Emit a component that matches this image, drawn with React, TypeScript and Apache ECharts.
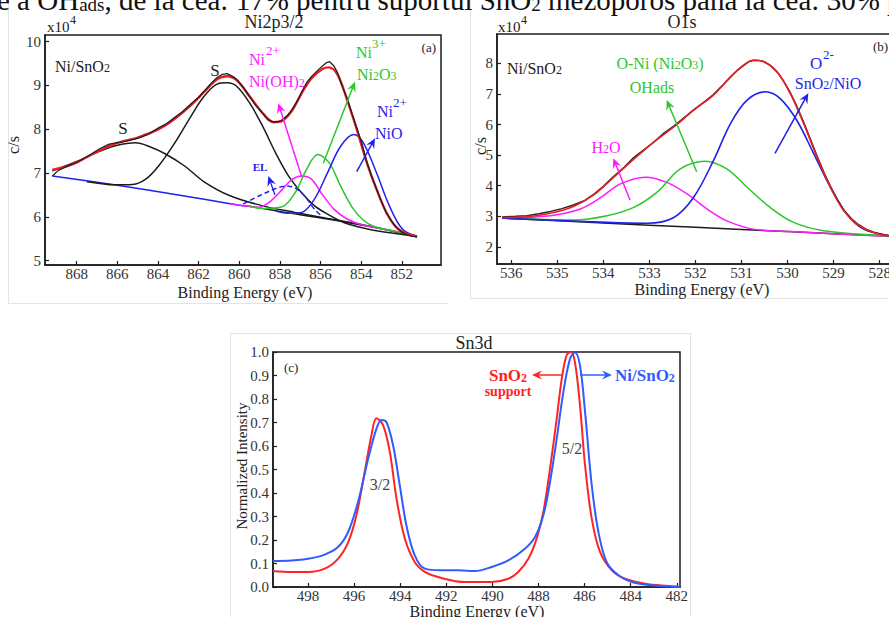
import React, { useEffect, useRef } from "react";
import * as echarts from "echarts";

const FONT = "'Liberation Serif','Times New Roman',serif";

// ---------- Panel (a) Ni2p3/2 ----------
const A_XTICKS = [868, 866, 864, 862, 860, 858, 856, 854, 852];
const A_YTICKS = [5, 6, 7, 8, 9, 10];
const A_RAW = [[869.2,6.93],[868.9,7.06],[868.4,7.17],[868.0,7.24],[867.5,7.37],[866.85,7.56],[866.4,7.66],[866.05,7.69],[865.6,7.72],[865.2,7.77],[864.93,7.8],[864.5,7.88],[863.97,8.03],[863.6,8.12],[863.17,8.27],[862.8,8.4],[862.37,8.58],[862.0,8.73],[861.73,8.86],[861.4,9.04],[861.09,9.18],[860.85,9.25],[860.6,9.27],[860.3,9.2],[860.13,9.14],[859.8,8.96],[859.49,8.74],[859.2,8.55],[858.85,8.36],[858.6,8.22],[858.37,8.17],[858.1,8.17],[857.89,8.21],[857.6,8.33],[857.41,8.44],[857.1,8.68],[856.93,8.85],[856.7,9.05],[856.45,9.2],[856.1,9.36],[855.89,9.45],[855.7,9.52],[855.55,9.54],[855.35,9.45],[855.17,9.3],[854.95,9.0],[854.69,8.7],[854.45,8.35],[854.21,8.02],[853.95,7.65],[853.73,7.27],[853.5,6.95],[853.25,6.64],[853.0,6.35],[852.77,6.1],[852.5,5.9],[852.29,5.77],[852.0,5.65],[851.81,5.6],[851.5,5.56],[851.25,5.54]];
const A_FIT = [[869.2,7.07],[868.4,7.17],[867.97,7.25],[866.85,7.52],[866.05,7.68],[864.93,7.82],[863.97,8.0],[863.17,8.24],[862.37,8.55],[861.73,8.85],[861.09,9.14],[860.6,9.21],[860.13,9.12],[859.49,8.75],[858.85,8.37],[858.3,8.16],[857.89,8.19],[857.41,8.42],[856.93,8.82],[856.45,9.16],[855.89,9.38],[855.6,9.41],[855.17,9.25],[854.69,8.67],[854.21,7.99],[853.73,7.25],[853.25,6.64],[852.77,6.11],[852.29,5.77],[851.81,5.62],[851.25,5.55]];
const A_SAT1 = [[869.2,7.05],[867.97,7.27],[866.85,7.5],[866.05,7.63],[865.1,7.69],[864.4,7.6],[863.65,7.44],[862.69,7.16],[861.73,6.8],[860.45,6.48],[858.85,6.25],[857.25,6.1],[855.65,5.96],[853.5,5.78],[851.25,5.55]];
const A_SAT2 = [[867.5,6.8],[866.85,6.76],[866.2,6.73],[865.25,6.74],[864.6,6.86],[863.97,7.16],[863.17,7.69],[862.37,8.3],[861.73,8.75],[861.09,9.03],[860.6,9.06],[860.13,8.98],[859.49,8.6],[858.85,8.07],[858.21,7.46],[857.57,6.93],[856.93,6.55],[856.29,6.25],[855.65,6.06],[854.85,5.87],[854.05,5.76],[853.25,5.68],[851.25,5.55]];
const A_BASE_BLUE = [[869.2,6.93],[866.0,6.72],[863.0,6.5],[860.45,6.3],[859.5,6.24]];
const A_BASE_BLACK = [[859.5,6.24],[858.0,6.12],[855.65,5.95],[853.5,5.77],[851.25,5.55]];
const A_NIOH2 = [[860.45,6.3],[859.6,6.24],[859.0,6.22],[858.53,6.33],[857.89,6.62],[857.41,6.85],[856.93,6.93],[856.45,6.86],[855.97,6.55],[855.33,6.17],[854.69,5.95],[854.05,5.83],[852.45,5.68],[851.25,5.56]];
const A_NI2O3 = [[859.5,6.24],[858.85,6.19],[857.89,6.23],[857.25,6.55],[856.69,7.08],[856.13,7.42],[855.57,7.23],[855.01,6.7],[854.37,6.17],[853.73,5.87],[852.93,5.72],[851.97,5.64],[851.25,5.56]];
const A_NIO = [[858.2,6.13],[857.57,6.08],[856.93,6.1],[856.29,6.41],[855.65,7.01],[855.01,7.61],[854.37,7.88],[853.89,7.69],[853.25,7.01],[852.61,6.25],[851.97,5.72],[851.25,5.55]];
const A_EL = [[859.81,6.29],[859.01,6.48],[858.05,6.67],[857.57,6.7],[856.93,6.55],[856.29,6.17],[855.89,6.0]];

// ---------- Panel (b) O1s ----------
const B_XTICKS = [536, 535, 534, 533, 532, 531, 530, 529, 528];
const B_YTICKS = [2, 3, 4, 5, 6, 7, 8];
const B_RAW = [[536.2,2.98],[535.9,3.0],[535.66,3.02],[535.4,3.08],[535.15,3.16],[534.9,3.25],[534.65,3.37],[534.4,3.52],[534.21,3.72],[534.0,3.98],[533.78,4.3],[533.55,4.6],[533.34,4.92],[533.1,5.2],[532.91,5.42],[532.7,5.7],[532.47,5.95],[532.25,6.22],[532.04,6.48],[531.8,6.75],[531.61,6.98],[531.4,7.3],[531.24,7.55],[531.1,7.76],[530.95,7.93],[530.85,8.05],[530.74,8.1],[530.6,8.09],[530.52,8.06],[530.38,7.94],[530.23,7.72],[530.1,7.45],[529.94,7.04],[529.8,6.6],[529.65,6.07],[529.5,5.5],[529.36,4.97],[529.2,4.4],[529.07,3.98],[528.9,3.5],[528.78,3.2],[528.6,2.9],[528.49,2.76],[528.3,2.58],[528.13,2.48],[527.9,2.4],[527.79,2.37]];
const B_FIT = [[536.2,2.96],[535.66,2.99],[535.15,3.1],[534.65,3.32],[534.21,3.7],[533.78,4.27],[533.34,4.87],[532.91,5.42],[532.47,5.92],[532.04,6.47],[531.61,6.96],[531.24,7.56],[530.95,7.95],[530.74,8.1],[530.52,8.05],[530.23,7.73],[529.94,7.01],[529.65,6.03],[529.36,4.93],[529.07,3.95],[528.78,3.18],[528.49,2.74],[528.13,2.47],[527.79,2.36],[527.3,2.32]];
const B_BASE = [[536.2,2.94],[534.0,2.78],[532.0,2.64],[530.0,2.5],[528.0,2.36],[527.3,2.32]];
const B_H2O = [[536.2,2.94],[535.15,3.02],[534.5,3.24],[534.07,3.6],[533.63,4.06],[533.09,4.28],[532.62,4.11],[532.18,3.73],[531.75,3.24],[531.32,2.85],[530.74,2.58],[529.94,2.5],[528.5,2.39],[527.3,2.32]];
const B_OHADS = [[536.2,2.94],[534.65,2.88],[533.92,3.02],[533.34,3.29],[532.84,3.78],[532.33,4.55],[531.79,4.8],[531.32,4.55],[530.88,3.95],[530.38,3.29],[529.87,2.8],[529.22,2.53],[528.0,2.37],[527.3,2.32]];
const B_O2 = [[536.2,2.94],[533.92,2.8],[533.05,2.77],[532.47,2.96],[532.04,3.62],[531.61,4.82],[531.24,6.03],[530.88,6.8],[530.48,7.07],[530.16,6.85],[529.8,6.14],[529.43,5.04],[529.07,3.95],[528.71,3.07],[528.35,2.58],[527.79,2.36],[527.3,2.32]];

// ---------- Panel (c) Sn3d ----------
const C_XTICKS = [498, 496, 494, 492, 490, 488, 486, 484, 482];
const C_YTICKS = [0, 0.1, 0.2, 0.3, 0.4, 0.5, 0.6, 0.7, 0.8, 0.9, 1.0];
const C_SNO2 = [[499.52,0.068],[498.72,0.064],[498.0,0.064],[497.28,0.078],[496.7,0.12],[496.26,0.19],[495.9,0.305],[495.54,0.49],[495.25,0.645],[495.03,0.718],[494.74,0.688],[494.45,0.574],[494.16,0.376],[493.8,0.206],[493.37,0.106],[492.93,0.064],[492.21,0.038],[491.19,0.021],[490.04,0.021],[489.31,0.035],[488.88,0.064],[488.44,0.12],[488.08,0.206],[487.79,0.319],[487.5,0.504],[487.21,0.716],[486.99,0.887],[486.78,0.986],[486.6,1.0],[486.42,0.957],[486.2,0.773],[485.98,0.518],[485.69,0.291],[485.33,0.149],[484.82,0.071],[484.24,0.035],[483.37,0.014],[482.36,0.004],[481.86,0.0]];
const C_NISNO2 = [[499.52,0.111],[498.72,0.113],[498.0,0.12],[497.28,0.138],[496.7,0.17],[496.26,0.234],[495.83,0.362],[495.39,0.546],[495.03,0.674],[494.81,0.711],[494.6,0.702],[494.31,0.603],[494.02,0.433],[493.73,0.262],[493.37,0.135],[492.93,0.078],[492.21,0.071],[491.48,0.071],[490.76,0.068],[490.04,0.085],[489.31,0.113],[488.59,0.163],[488.15,0.213],[487.79,0.305],[487.5,0.447],[487.21,0.631],[486.92,0.83],[486.63,0.972],[486.42,0.998],[486.2,0.943],[485.98,0.745],[485.69,0.433],[485.4,0.234],[485.04,0.106],[484.53,0.05],[483.95,0.021],[483.09,0.007],[481.86,0.0]];

const BLACK = "#1c1c1c";
const RED = "#ee1c24";
const MAGENTA = "#ff1aff";
const GREEN = "#2ec52e";
const BLUE = "#1f22e8";
const C_RED = "#ff2424";
const C_BLUE = "#2f5cff";

function txt(x: number, y: number, text: string, opts: any = {}) {
  const size = opts.size || 16;
  const align = opts.align || "left";
  const va = opts.va || "middle";
  const weight = opts.weight || "normal";
  return {
    type: "text",
    x,
    y,
    rotation: opts.rotation || 0,
    z: 100,
    style: {
      text,
      font: `${weight} ${size}px ${FONT}`,
      fontSize: size,
      fontFamily: FONT,
      fontWeight: weight,
      fill: opts.color || "#222",
      textFill: opts.color || "#222",
      align,
      textAlign: align,
      verticalAlign: va,
      textVerticalAlign: va,
      rich: opts.rich,
    },
  };
}

function subRich(size: number, color: string, weight = "normal") {
  return {
    n: { fontSize: size, fontFamily: FONT, color, fill: color, fontWeight: weight, verticalAlign: "bottom" },
    s: { fontSize: Math.round(size * 0.72), fontFamily: FONT, color, fill: color, fontWeight: weight, verticalAlign: "bottom" },
  };
}

function arrow(x1: number, y1: number, x2: number, y2: number, color: string, width = 1.5) {
  const dx = x2 - x1, dy = y2 - y1;
  const L = Math.hypot(dx, dy);
  const ux = dx / L, uy = dy / L;
  const hl = 10, hw = 4.5;
  const bx = x2 - ux * hl, by = y2 - uy * hl;
  const nx = x2 - ux * hl * 0.65, ny = y2 - uy * hl * 0.65;
  return [
    { type: "line", z: 90, shape: { x1, y1, x2: nx, y2: ny }, style: { stroke: color, lineWidth: width } },
    {
      type: "polygon",
      z: 90,
      shape: { points: [[x2, y2], [bx - uy * hw, by + ux * hw], [nx, ny], [bx + uy * hw, by - ux * hw]] },
      style: { fill: color },
    },
  ];
}

function vline(x: number, y1: number, y2: number) {
  return { type: "line", z: 1, shape: { x1: x, y1, x2: x, y2 }, style: { stroke: "#e4e4e4", lineWidth: 1 } };
}
function hline(y: number, x1: number, x2: number) {
  return { type: "line", z: 1, shape: { x1, y1: y, x2, y2: y }, style: { stroke: "#e4e4e4", lineWidth: 1 } };
}

function ln(data: number[][], gi: number, color: string, width: number, extra: any = {}) {
  return {
    type: "line",
    xAxisIndex: gi,
    yAxisIndex: gi,
    data,
    showSymbol: false,
    symbol: "none",
    smooth: extra.smooth === undefined ? 0.35 : extra.smooth,
    silent: true,
    z: extra.z || 2,
    lineStyle: { color, width, type: extra.type || "solid" },
  };
}

function xAxisOf(gi: number, min: number, max: number, ticks: number[]) {
  return {
    gridIndex: gi,
    type: "value",
    inverse: true,
    min,
    max,
    axisLine: { show: true, lineStyle: { color: BLACK, width: 1.5 } },
    axisTick: { show: true, inside: true, length: 4, customValues: ticks, lineStyle: { color: BLACK, width: 1.2 } },
    axisLabel: { show: true, customValues: ticks, fontSize: 15, fontFamily: FONT, color: "#333", margin: 1, formatter: (v: number) => String(v) },
    splitLine: { show: false },
  };
}
function yAxisOf(gi: number, min: number, max: number, ticks: number[], fmt?: (v: number) => string) {
  return {
    gridIndex: gi,
    type: "value",
    min,
    max,
    axisLine: { show: true, lineStyle: { color: BLACK, width: 1.5 } },
    axisTick: { show: true, inside: true, length: 4, customValues: ticks, lineStyle: { color: BLACK, width: 1.2 } },
    axisLabel: { show: true, customValues: ticks, fontSize: 15, fontFamily: FONT, color: "#333", margin: 4, formatter: fmt || ((v: number) => String(v)) },
    splitLine: { show: false },
  };
}

export default function App() {
  const ref = useRef<HTMLDivElement>(null);
  useEffect(() => {
    if (!ref.current) return;
    const chart = echarts.init(ref.current, null, { renderer: "svg" });
    const gridStyle = { show: true, borderColor: BLACK, borderWidth: 1.5, backgroundColor: "transparent", containLabel: false };
    const graphic: any[] = [
      // faint figure borders
      vline(8.5, 0, 303), hline(303.5, 8, 448),
      vline(470.5, 0, 298), hline(298.5, 470, 889),
      hline(333.5, 230, 690), vline(230.5, 333, 617), vline(690.5, 333, 617),
      // page text cut at the top
      txt(-3, 14, "{n|e a OH}{s|ads}{n|, de la cea: 17% pentru suportul SnO}{s|2}{n| mezoporos până la cea: 30% p}", {
        size: 29, va: "bottom",
        rich: {
          n: { fontSize: 29, fontFamily: FONT, fill: "#111", color: "#111", verticalAlign: "bottom" },
          s: { fontSize: 19, fontFamily: FONT, fill: "#111", color: "#111", verticalAlign: "bottom" },
        },
      }),
      // ---- panel (a)
      txt(274, 22, "Ni2p3/2", { size: 18, align: "center" }),
      txt(47, 27, "x10", { size: 15 }),
      txt(70, 20, "4", { size: 12 }),
      txt(13, 145, "c/s", { size: 16, align: "center", rotation: Math.PI / 2 }),
      txt(245, 292, "Binding Energy (eV)", { size: 16, align: "center" }),
      txt(55, 66, "{n|Ni/SnO}{s|2}", { rich: subRich(16, "#222") }),
      txt(436, 47, "(a)", { size: 13, align: "right" }),
      txt(123, 128, "S", { size: 17, align: "center" }),
      txt(215, 70, "S", { size: 17, align: "center" }),
      txt(249, 59, "Ni", { size: 16, color: MAGENTA }),
      txt(266, 50, "2+", { size: 13, color: MAGENTA }),
      txt(249, 81, "{n|Ni(OH)}{s|2}", { rich: subRich(16, MAGENTA) }),
      txt(356, 52, "Ni", { size: 16, color: GREEN }),
      txt(372, 43, "3+", { size: 13, color: GREEN }),
      txt(357, 74, "{n|Ni}{s|2}{n|O}{s|3}", { rich: subRich(16, GREEN) }),
      txt(377, 111, "Ni", { size: 16, color: BLUE }),
      txt(393, 102, "2+", { size: 13, color: BLUE }),
      txt(375, 133, "NiO", { size: 16, color: BLUE }),
      txt(260, 167, "EL", { size: 11, color: BLUE, weight: "bold", align: "center" }),
      ...arrow(301.7, 176.7, 278.3, 103.3, MAGENTA),
      ...arrow(323.3, 163.3, 355, 81.7, GREEN),
      ...arrow(356.7, 171.7, 375, 138.3, BLUE),
      ...arrow(275, 195, 268.3, 176, BLUE, 1.3),
      // ---- panel (b)
      txt(682, 22, "O1s", { size: 18, align: "center" }),
      txt(498, 27, "x10", { size: 15 }),
      txt(521, 20, "4", { size: 12 }),
      txt(480, 146, "c/s", { size: 16, align: "center", rotation: Math.PI / 2 }),
      txt(702, 289, "Binding Energy (eV)", { size: 16, align: "center" }),
      txt(507, 68, "{n|Ni/SnO}{s|2}", { rich: subRich(16, "#222") }),
      txt(873, 46, "(b)", { size: 13 }),
      txt(660, 63, "{n|O-Ni (Ni}{s|2}{n|O}{s|3}{n|)}", { align: "center", rich: subRich(16, GREEN) }),
      txt(652, 87, "OHads", { size: 16, color: GREEN, align: "center" }),
      txt(810, 63, "O", { size: 17, color: BLUE }),
      txt(823, 54, "2-", { size: 13, color: BLUE }),
      txt(828, 83, "{n|SnO}{s|2}{n|/NiO}", { align: "center", rich: subRich(16, BLUE) }),
      txt(606, 147, "{n|H}{s|2}{n|O}", { align: "center", rich: subRich(16, MAGENTA) }),
      ...arrow(630, 200, 613.3, 158.3, MAGENTA),
      ...arrow(696.7, 171.7, 666.7, 100, GREEN),
      ...arrow(775, 153.3, 808.3, 93.3, BLUE),
      // ---- panel (c)
      txt(474, 343, "Sn3d", { size: 18, align: "center" }),
      txt(242, 466, "Normalized Intensity", { size: 15, align: "center", rotation: Math.PI / 2 }),
      txt(477, 611, "Binding Energy (eV)", { size: 16, align: "center" }),
      txt(284, 367, "(c)", { size: 13 }),
      txt(380, 484, "3/2", { size: 16, color: "#444", align: "center" }),
      txt(572, 448, "5/2", { size: 16, color: "#444", align: "center" }),
      txt(508, 375, "{n|SnO}{s|2}", { align: "center", rich: subRich(17, C_RED, "bold") }),
      txt(508, 391, "support", { size: 14, color: C_RED, weight: "bold", align: "center" }),
      txt(615, 375, "{n|Ni/SnO}{s|2}", { rich: subRich(17, C_BLUE, "bold") }),
      ...arrow(563, 375, 532, 375, C_RED, 1.5),
      ...arrow(580, 375, 612, 375, C_BLUE, 1.5),
    ];

    chart.setOption({
      animation: false,
      backgroundColor: "#fff",
      textStyle: { fontFamily: FONT },
      grid: [
        { left: 45, top: 35, width: 396, height: 230, ...gridStyle },
        { left: 497, top: 34, width: 408, height: 230, ...gridStyle },
        { left: 273, top: 352, width: 407, height: 235, ...gridStyle },
      ],
      xAxis: [
        xAxisOf(0, 850.07, 869.56, A_XTICKS),
        xAxisOf(1, 527.45, 536.31, B_XTICKS),
        xAxisOf(2, 481.86, 499.52, C_XTICKS),
      ],
      yAxis: [
        yAxisOf(0, 4.9, 10.15, A_YTICKS),
        yAxisOf(1, 1.44, 8.96, B_YTICKS),
        yAxisOf(2, 0, 1, C_YTICKS, (v: number) => v.toFixed(1)),
      ],
      series: [
        ln(A_BASE_BLACK, 0, BLACK, 1.5),
        ln(A_BASE_BLUE, 0, BLUE, 1.5),
        ln(A_SAT1, 0, BLACK, 1.5),
        ln(A_SAT2, 0, BLACK, 1.5),
        ln(A_NIOH2, 0, MAGENTA, 1.5),
        ln(A_NI2O3, 0, GREEN, 1.5),
        ln(A_NIO, 0, BLUE, 1.5),
        ln(A_EL, 0, BLUE, 1.5, { type: [5, 3] }),
        ln(A_FIT, 0, RED, 2.4, { z: 3 }),
        ln(A_RAW, 0, "#222", 1.3, { z: 4, smooth: false }),

        ln(B_BASE, 1, BLACK, 1.5),
        ln(B_H2O, 1, MAGENTA, 1.5),
        ln(B_OHADS, 1, GREEN, 1.5),
        ln(B_O2, 1, BLUE, 1.6),
        ln(B_RAW, 1, "#222", 1.5, { z: 3, smooth: false }),
        ln(B_FIT, 1, RED, 1.6, { z: 4 }),

        ln(C_SNO2, 2, C_RED, 2),
        ln(C_NISNO2, 2, C_BLUE, 2, { z: 3 }),
      ],
      graphic,
    });
    return () => chart.dispose();
  }, []);

  return (
    <div style={{ position: "fixed", left: 0, top: 0, width: 889, height: 617, overflow: "hidden", background: "#fff" }}>
      <div ref={ref} style={{ width: 940, height: 617 }} />
    </div>
  );
}
